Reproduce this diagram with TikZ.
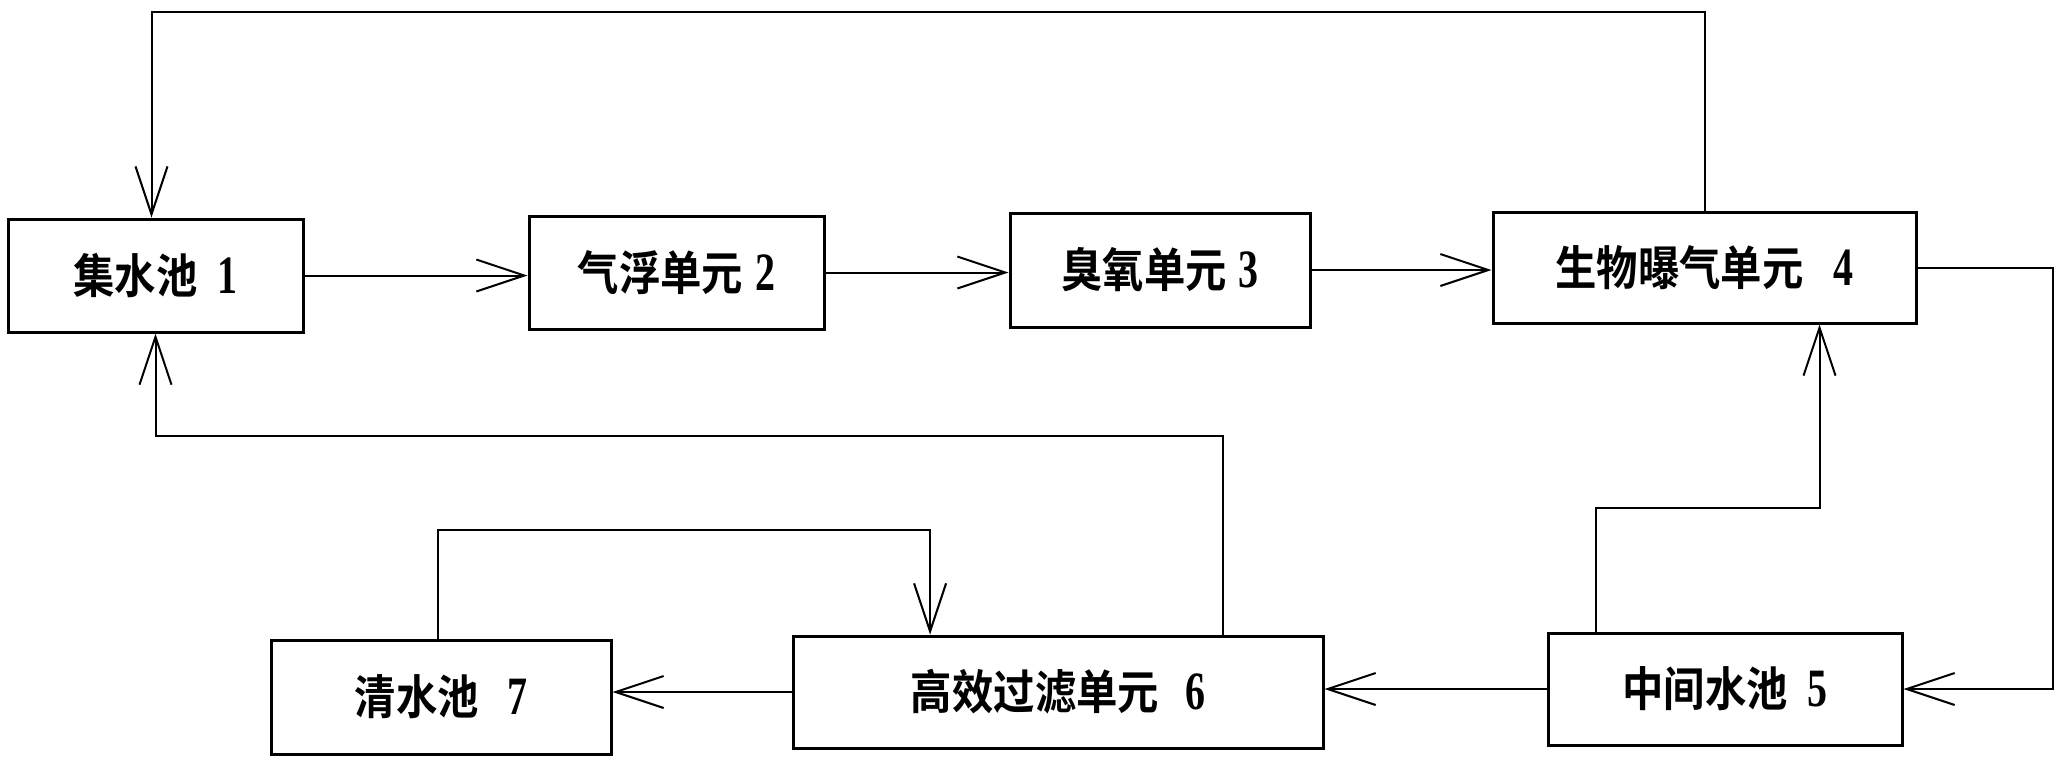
\documentclass[tikz,border=0pt]{standalone}
\usepackage{fontspec}
\setmainfont{Liberation Serif}
\newfontfamily\cjk{Noto Sans CJK SC}[BoldFont={* Bold}, FakeStretch=0.88]
\newfontfamily\digf{Liberation Serif}[FakeStretch=0.74]
\usetikzlibrary{arrows.meta,calc}
\newcommand\lbl[3]{{\fontsize{23.5pt}{26pt}\cjk\bfseries #1}\hspace{#3}{\fontsize{27pt}{26pt}\digf\bfseries #2}}
\tikzset{
  unit/.style={draw, line width=1.5pt, inner sep=0pt, rectangle},
  arr/.style={-{Straight Barb[length=24pt,width=16pt]}, line width=1pt}
}
\begin{document}
\begin{tikzpicture}[x=0.5pt,y=-0.5pt]
\useasboundingbox (0,0) rectangle (2062,767);
\node[unit, minimum width=147.5pt, minimum height=56.5pt] (b1) at (155.5,275.5) {\lbl{集水池}{1}{10pt}};
\node[unit, minimum width=147.5pt, minimum height=56.5pt] (b2) at (676.5,272.5) {\lbl{气浮单元}{2}{6pt}};
\node[unit, minimum width=150pt, minimum height=57pt] (b3) at (1160,270) {\lbl{臭氧单元}{3}{6pt}};
\node[unit, minimum width=211.5pt, minimum height=55.5pt] (b4) at (1704.5,267.5) {\lbl{生物曝气单元}{4}{15pt}};
\node[unit, minimum width=177pt, minimum height=56pt] (b5) at (1725,689) {\lbl{中间水池}{5}{10pt}};
\node[unit, minimum width=265pt, minimum height=56pt] (b6) at (1058,692) {\lbl{高效过滤单元}{6}{13pt}};
\node[unit, minimum width=170pt, minimum height=57pt] (b7) at (441,697) {\lbl{清水池}{7}{14pt}};
\coordinate (t) at (900,12);
\coordinate (r) at (2053,450);
\coordinate (m) at (1700,508);
\coordinate (n) at (700,436);
\coordinate (k) at (700,530);
% main line
\draw[arr] (b1.east) -- (b1.east -| b2.west);
\draw[arr] (b2.east) -- (b2.east -| b3.west);
\draw[arr] (b3.east) -- (b3.east -| b4.west);
\draw[arr] (b4.east) -| (r) |- (b5.east);
\draw[arr] (b5.west) -- (b5.west -| b6.east);
\draw[arr] (b6.west) -- (b6.west -| b7.east);
% returns
\draw[arr] (b4.north) |- (t) -| ([xshift=-2pt]b1.north);
\draw[arr] ($(b5.north west)!0.14!(b5.north east)$) |- (m) -| ($(b4.south west)!0.77!(b4.south east)$);
\draw[arr] ($(b6.north west)!0.81!(b6.north east)$) |- (n) -| (b1.south);
\draw[arr] ($(b7.north west)!0.49!(b7.north east)$) |- (k) -| ($(b6.north west)!0.26!(b6.north east)$);
\end{tikzpicture}
\end{document}
